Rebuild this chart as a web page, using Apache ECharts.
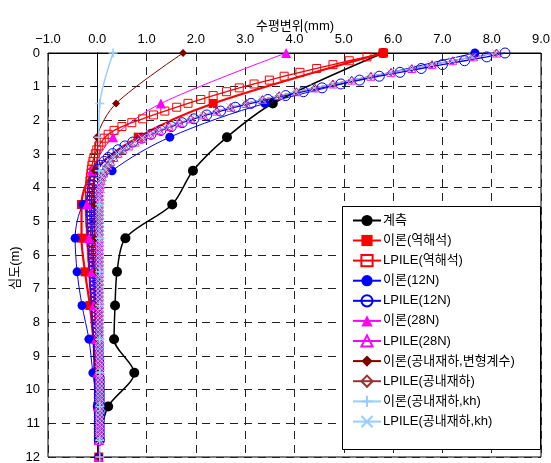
<!DOCTYPE html>
<html><head><meta charset="utf-8">
<script src="https://cdn.jsdelivr.net/npm/echarts@6/dist/echarts.min.js"></script>
<style>html,body{margin:0;padding:0;background:#fff}#c{width:551px;height:463px}</style>
</head><body><div id="c"></div>
<script>
// ---- data ----
const xTicks = [-1,0,1,2,3,4,5,6,7,8,9];
const depthTicks = [0,1,2,3,4,5,6,7,8,9,10,11,12];
const xTitle = '수평변위(mm)';
const yTitle = '심도(m)';

const measDepth = [0,1.5,2.5,3.5,4.5,5.5,6.5,7.5,8.5,9.5,10.5,11.5];
const measured  = [5.80,3.56,2.63,1.94,1.52,0.57,0.40,0.36,0.34,0.75,0.22,0.05];

const theoryDepth = [0,1.5,2.5,3.5,4.5,5.5,6.5,7.5,8.5,9.5,10.5,11.5,12];
const thBack = [5.80,2.35,0.83,-0.07,-0.32,-0.32,-0.25,-0.15,-0.08,-0.02,0.01,0.03,0.03];
const th12N  = [7.66,3.40,1.47,0.30,-0.29,-0.45,-0.41,-0.31,-0.17,-0.09,0.00,0.03,0.03];
const th28N  = [3.83,1.29,0.32,-0.11,-0.21,-0.17,-0.11,-0.07,-0.03,0.00,0.02,0.03,0.03];
const thPMT  = [1.74,0.38,-0.01,-0.06,-0.06,-0.04,-0.02,0.00,0.01,0.02,0.03,0.03,0.03];
const thKh   = [0.32,0.05,0.03,0.04,0.05,0.05,0.05,0.05,0.05,0.05,0.05,0.05,0.05];

const lpDepth = [0,0.115,0.23,0.345,0.46,0.575,0.69,0.805,0.92,1.035,1.15,1.265,1.38,1.495,1.61,1.725,1.84,1.955,2.07,2.185,2.3,2.415,2.53,2.645,2.76,2.875,2.99,3.105,3.22,3.335,3.45,3.565,3.68,3.795,3.91,4.025,4.14,4.255,4.37,4.485,4.6,4.715,4.83,4.945,5.06,5.175,5.29,5.405,5.52,5.635,5.75,5.865,5.98,6.095,6.21,6.325,6.44,6.555,6.67,6.785,6.9,7.015,7.13,7.245,7.36,7.475,7.59,7.705,7.82,7.935,8.05,8.165,8.28,8.395,8.51,8.625,8.74,8.855,8.97,9.085,9.2,9.315,9.43,9.545,9.66,9.775,9.89,10.005,10.12,10.235,10.35,10.465,10.58,10.695,10.81,10.925,11.04,11.155,11.27,11.385,11.5];

const lpBack = [5.80,5.47,5.11,4.78,4.45,4.11,3.79,3.49,3.18,2.88,
 2.62,2.35,2.10,1.84,1.61,1.37,1.14,0.92,0.70,0.50,
 0.34,0.22,0.14,0.08,0.03,-0.01,-0.04,-0.07,-0.09,-0.11,
 -0.12,-0.13,-0.14,-0.15,-0.15,-0.16,-0.16,-0.16,-0.16,-0.16,
 -0.16,-0.16,-0.15,-0.15,-0.15,-0.14,-0.14,-0.14,-0.13,-0.13,
 -0.12,-0.12,-0.11,-0.11,-0.10,-0.10,-0.09,-0.09,-0.08,-0.08,
 -0.07,-0.07,-0.06,-0.06,-0.05,-0.05,-0.04,-0.04,-0.03,-0.03,
 -0.02,-0.02,-0.01,-0.01,0.00,0.00,0.01,0.01,0.01,0.02,
 0.02,0.02,0.02,0.03,0.03,0.03,0.03,0.03,0.03,0.03,
 0.03,0.03,0.03,0.03,0.03,0.03,0.03,0.03,0.03,0.03,0.03];

const lp12N = [8.27,7.90,7.45,7.00,6.57,6.14,5.72,5.32,4.94,4.56,
 4.18,3.82,3.46,3.12,2.80,2.50,2.22,1.96,1.72,1.50,
 1.29,1.09,0.90,0.72,0.56,0.42,0.31,0.22,0.14,0.07,
 0.02,-0.02,-0.05,-0.07,-0.09,-0.10,-0.11,-0.11,-0.12,-0.12,
 -0.12,-0.12,-0.12,-0.11,-0.11,-0.11,-0.10,-0.10,-0.10,-0.09,
 -0.09,-0.08,-0.08,-0.08,-0.07,-0.07,-0.06,-0.06,-0.05,-0.05,
 -0.05,-0.04,-0.04,-0.03,-0.03,-0.03,-0.02,-0.02,-0.01,-0.01,
 0.00,0.00,0.01,0.01,0.01,0.02,0.02,0.02,0.02,0.03,
 0.03,0.03,0.03,0.03,0.04,0.04,0.04,0.04,0.04,0.04,
 0.04,0.04,0.04,0.04,0.04,0.04,0.04,0.04,0.04,0.04,0.04];

const lp28N = [8.10,7.63,7.21,6.79,6.38,5.96,5.55,5.16,4.78,4.41,
 4.04,3.69,3.35,3.02,2.71,2.42,2.15,1.90,1.67,1.46,
 1.26,1.08,0.92,0.77,0.64,0.52,0.42,0.34,0.27,0.21,
 0.17,0.13,0.10,0.08,0.07,0.06,0.05,0.05,0.05,0.05,
 0.05,0.05,0.05,0.05,0.05,0.05,0.05,0.05,0.05,0.05,
 0.05,0.05,0.05,0.05,0.05,0.05,0.05,0.05,0.05,0.05,
 0.05,0.05,0.05,0.05,0.05,0.05,0.05,0.05,0.05,0.05,
 0.05,0.05,0.05,0.05,0.05,0.05,0.05,0.05,0.05,0.05,
 0.05,0.05,0.05,0.05,0.05,0.05,0.05,0.05,0.05,0.05,
 0.05,0.05,0.05,0.05,0.05,0.05,0.05,0.05,0.05,0.05,0.05];

const lpPMT = [8.09,7.62,7.21,6.79,6.38,5.96,5.55,5.16,4.78,4.41,
 4.04,3.69,3.35,3.02,2.71,2.42,2.15,1.90,1.67,1.46,
 1.26,1.08,0.92,0.77,0.64,0.52,0.42,0.34,0.27,0.21,
 0.17,0.13,0.10,0.08,0.07,0.06,0.06,0.05,0.05,0.05,
 0.05,0.05,0.05,0.05,0.05,0.05,0.05,0.05,0.05,0.05,
 0.05,0.05,0.05,0.05,0.05,0.05,0.05,0.05,0.05,0.05,
 0.05,0.05,0.05,0.05,0.05,0.05,0.05,0.05,0.05,0.05,
 0.05,0.05,0.05,0.05,0.05,0.05,0.05,0.05,0.05,0.05,
 0.05,0.05,0.05,0.05,0.05,0.05,0.05,0.05,0.05,0.05,
 0.05,0.05,0.05,0.05,0.05,0.05,0.05,0.05,0.05,0.05,0.05];

const lpKh = [8.08,7.61,7.20,6.78,6.37,5.95,5.54,5.15,4.77,4.40,
 4.03,3.68,3.34,3.01,2.70,2.41,2.14,1.89,1.66,1.45,
 1.25,1.07,0.91,0.76,0.63,0.51,0.41,0.33,0.26,0.20,
 0.16,0.12,0.10,0.08,0.07,0.06,0.06,0.05,0.05,0.05,
 0.05,0.05,0.05,0.05,0.05,0.05,0.05,0.05,0.05,0.05,
 0.05,0.05,0.05,0.05,0.05,0.05,0.05,0.05,0.05,0.05,
 0.05,0.05,0.05,0.05,0.05,0.05,0.05,0.05,0.05,0.05,
 0.05,0.05,0.05,0.05,0.05,0.05,0.05,0.05,0.05,0.05,
 0.05,0.05,0.05,0.05,0.05,0.05,0.05,0.05,0.05,0.05,
 0.05,0.05,0.05,0.05,0.05,0.05,0.05,0.05,0.05,0.05,0.05];

const names = ['계측','이론(역해석)','LPILE(역해석)','이론(12N)','LPILE(12N)','이론(28N)','LPILE(28N)','이론(공내재하,변형계수)','LPILE(공내재하)','이론(공내재하,kh)','LPILE(공내재하,kh)'];

// ---- build ----
const pairs = (xs, ds) => xs.map((v,i)=>[v, ds[i]]);
const FONT = '"Liberation Sans", "Noto Sans CJK KR", sans-serif';
const PLUS = 'path://M0,5L10,5M5,0L5,10';
const CROSS = 'path://M0,0L10,10M10,0L0,10';

function ser(name, data, color, lw, symbol, size, filled, extra) {
  const s = {
    name, type:'line', data, smooth:0.3, symbol, symbolSize:size,
    lineStyle:{color, width:lw},
    itemStyle: filled ? {color, borderColor:color, borderWidth:0}
                      : {color:'rgba(255,255,255,0)', borderColor:color, borderWidth:1},
    emphasis:{disabled:true}, animation:false, clip:true
  };
  return Object.assign(s, extra||{});
}

const series = [
  ser(names[0], pairs(measured, measDepth), '#000000', 1.5, 'circle', 10, true),
  ser(names[1], pairs(thBack, theoryDepth), '#FF0000', 2.2, 'rect', 9, true),
  ser(names[2], pairs(lpBack, lpDepth), '#FF0000', 1.3, 'rect', 8, false, {smooth:false}),
  ser(names[3], pairs(th12N, theoryDepth), '#0000FF', 1, 'circle', 9, true),
  ser(names[4], pairs(lp12N, lpDepth), '#0000FF', 1.3, 'circle', 10, false, {smooth:false}),
  ser(names[5], pairs(th28N, theoryDepth), '#FF00FF', 1, 'triangle', 10, true),
  ser(names[6], pairs(lp28N, lpDepth), '#FF00FF', 1, 'triangle', 8, false, {smooth:false}),
  ser(names[7], pairs(thPMT, theoryDepth), '#800000', 1, 'diamond', 8, true),
  ser(names[8], pairs(lpPMT, lpDepth), '#993333', 1, 'diamond', 7, false, {smooth:false}),
  ser(names[9], pairs(thKh, theoryDepth), '#99CCFF', 1.5, PLUS, 9, false),
  ser(names[10], pairs(lpKh, lpDepth), '#99CCFF', 1, CROSS, 8, false, {smooth:false})
];
series[9].itemStyle.borderWidth = 1.5;

const chart = echarts.init(document.getElementById('c'), null, {renderer:'canvas'});
chart.setOption({
  backgroundColor:'#ffffff',
  animation:false,
  textStyle:{fontFamily:FONT},
  grid:{left:48, right:10, top:53, bottom:6, outerBoundsMode:'none', containLabel:false,
    show:true, borderColor:'#000', borderWidth:1, backgroundColor:'transparent'},
  xAxis:{
    type:'value', position:'top', min:xTicks[0], max:xTicks[xTicks.length-1], interval:1,
    axisLine:{show:true, lineStyle:{color:'#000', width:1}},
    axisTick:{show:false},
    axisLabel:{color:'#000', fontSize:13, margin:7, fontFamily:FONT,
      formatter:v=>(v<0?'\u2212':'')+Math.abs(v).toFixed(1)},
    splitLine:{show:true, lineStyle:{color:'#222', type:[8,6], width:1}}
  },
  yAxis:{
    type:'value', inverse:true, min:depthTicks[0], max:depthTicks[depthTicks.length-1], interval:1,
    axisLine:{show:true, lineStyle:{color:'#000', width:1}},
    axisTick:{show:true, length:5, lineStyle:{color:'#000'}},
    axisLabel:{color:'#000', fontSize:13, margin:8, fontFamily:FONT},
    splitLine:{show:true, lineStyle:{color:'#222', type:[8,6], width:1}}
  },
  graphic:[
    {type:'rect', left:342, top:206, shape:{width:198, height:243},
      style:{fill:'#fff', stroke:'#000', lineWidth:1}, z:3, silent:true},
    {type:'text', x:295, y:26, silent:true,
      style:{text:xTitle, fill:'#000', font:'13px ' + FONT, align:'center', verticalAlign:'middle'}},
    {type:'text', x:15, y:268, rotation:Math.PI/2, silent:true,
      style:{text:yTitle, fill:'#000', font:'13px ' + FONT, align:'center', verticalAlign:'middle'}}
  ],
  legend:{
    orient:'vertical', left:352, top:214, itemWidth:28, itemHeight:14, itemGap:7,
    padding:0, data:names, z:5,
    textStyle:{color:'#000', fontSize:13, fontFamily:FONT, padding:[0,0,0,-3]},
    selectedMode:false
  },
  series
});
</script></body></html>
